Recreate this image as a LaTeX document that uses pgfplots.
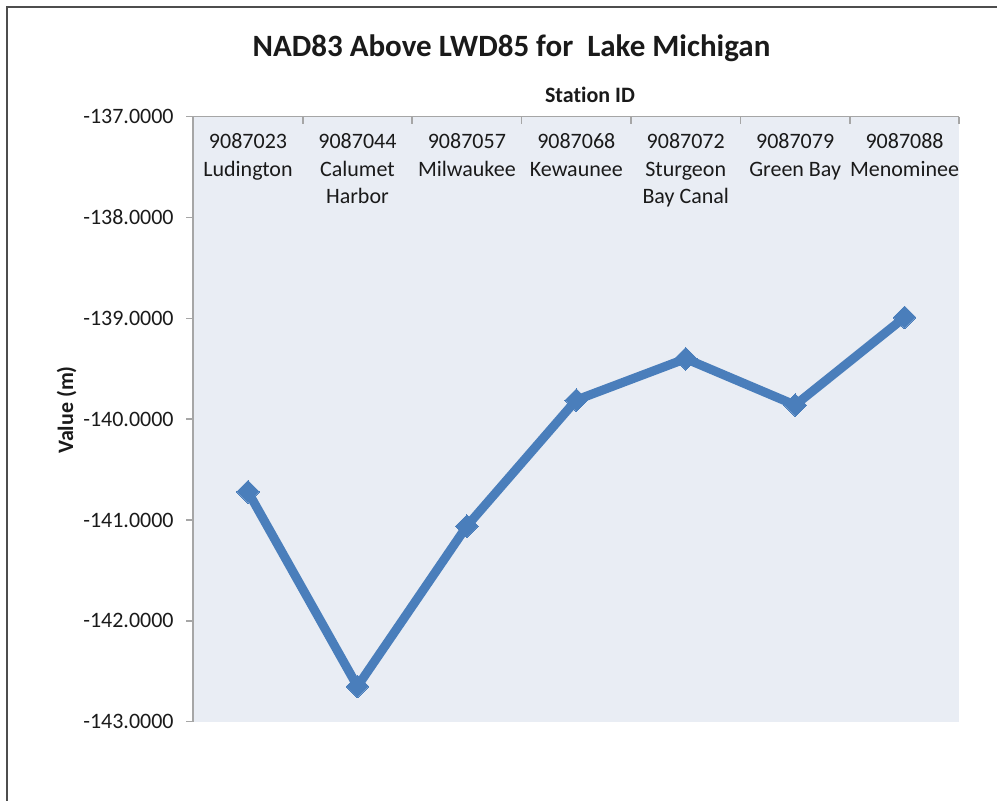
\documentclass[border=0pt]{standalone}
\usepackage{fontspec}
\setmainfont{Carlito}[Ligatures=CommonOff]
\usepackage{pgfplots}
\pgfplotsset{compat=1.18}
\definecolor{lineblue}{HTML}{4A7EBB}
\definecolor{plotbg}{HTML}{E9EDF4}
\definecolor{axisgray}{HTML}{A6A6A6}
\definecolor{framegray}{HTML}{4D4D4D}
\definecolor{txt}{HTML}{1A1A1A}

\begin{document}
\begin{tikzpicture}[x=1pt,y=1pt]
\useasboundingbox (0,0) rectangle (498.5,400.5);
\draw[framegray, line width=1pt] (3.5,0) -- (3.5,397) -- (498.5,397);

\node[font=\fontsize{15.5}{18}\selectfont\bfseries, text=txt] at (255.75,376.5)
  {NAD83 Above LWD85 for~ Lake Michigan};
\node[font=\fontsize{11}{13}\selectfont\bfseries, text=txt] at (295,353) {Station ID};
\node[font=\fontsize{11}{13}\selectfont\bfseries, text=txt, rotate=90] at (33.35,195.5) {Value (m)};

\begin{axis}[
  at={(96.65pt,39.65pt)}, anchor=south west,
  scale only axis, width=383pt, height=302.5pt,
  xmin=-0.5, xmax=6.5, ymin=-143, ymax=-137,
  axis x line*=top, axis y line*=left,
  axis line style={draw=axisgray, line width=0.8pt, -},
  axis background/.style={fill=plotbg},
  tick align=inside, major tick length=3.5pt,
  tick style={draw=axisgray, line width=0.8pt},
  ytick style={xshift=-3.5pt},
  xtick={-0.5,0.5,1.5,2.5,3.5,4.5,5.5,6.5},
  x tick label as interval,
  xticklabels={{9087023\\Ludington},{9087044\\Calumet\\Harbor},{9087057\\Milwaukee},
    {9087068\\Kewaunee},{9087072\\Sturgeon\\Bay Canal},{9087079\\Green Bay},
    {9087088\\Menominee}},
  xticklabel style={align=center, anchor=north, yshift=-5pt},
  ytick={-143,-142,-141,-140,-139,-138,-137},
  yticklabels={-143.0000,-142.0000,-141.0000,-140.0000,-139.0000,-138.0000,-137.0000},
  yticklabel style={xshift=-6.3pt},
  tick label style={font=\fontsize{11}{13.75}\selectfont, text=txt},
  clip=false]
\addplot[color=lineblue, line width=4.5pt, line join=round,
  mark=square*, mark size=4pt,
  mark options={rotate=45, solid, line width=0pt, fill=lineblue}]
  coordinates {(0,-140.72) (1,-142.65) (2,-141.06) (3,-139.81)
               (4,-139.40) (5,-139.86) (6,-138.99)};
\end{axis}
\end{tikzpicture}
\end{document}
